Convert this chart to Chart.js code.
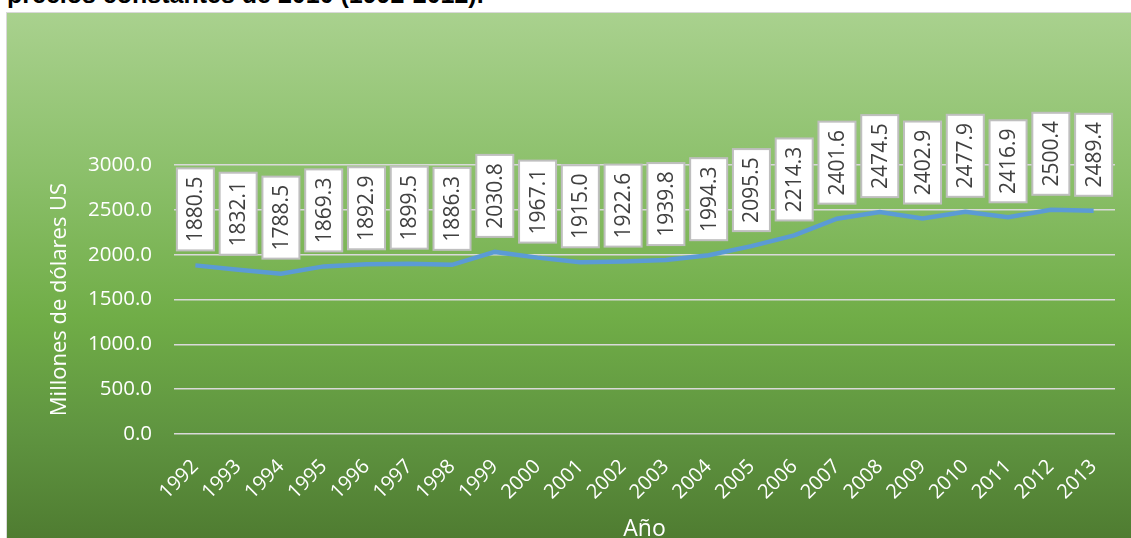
<!DOCTYPE html>
<html lang="es">
<head>
<meta charset="utf-8">
<title>Millones de dólares US</title>
<script src="https://cdn.jsdelivr.net/npm/chart.js@4/dist/chart.umd.min.js"></script>
<style>
  html, body { margin: 0; padding: 0; background: #ffffff; width: 1131px; height: 538px; overflow: hidden; }
  #heading {
    position: absolute; left: 7px; top: -20px; margin: 0;
    font: bold 25px "Liberation Sans", Arial, sans-serif; color: #000000; white-space: nowrap;
  }
  #frame {
    position: absolute; left: 6px; top: 12px; width: 1126px; height: 528px; overflow: hidden;
    box-sizing: border-box; border: 1px solid #d9d9d9;
    background: linear-gradient(to bottom, #a9d18e 0%, #8cc06b 30%, #70ad47 58%, #5f9440 80%, #4f7c31 100%);
  }
  #chartBox { position: absolute; left: 0; top: 0; width: 1125px; height: 530px; }
</style>
</head>
<body>
<p id="heading">precios constantes de 2010 (1992-2012).</p>
<div id="frame">
  <div id="chartBox"><canvas id="chart"></canvas></div>
</div>
<script>
// Años y valores de la serie
const years = ['1992','1993','1994','1995','1996','1997','1998','1999','2000','2001','2002',
               '2003','2004','2005','2006','2007','2008','2009','2010','2011','2012','2013'];
const values = [1880.5, 1832.1, 1788.5, 1869.3, 1892.9, 1899.5, 1886.3, 2030.8, 1967.1, 1915.0, 1922.6,
                1939.8, 1994.3, 2095.5, 2214.3, 2401.6, 2474.5, 2402.9, 2477.9, 2416.9, 2500.4, 2489.4];
const yTicks = [0, 500, 1000, 1500, 2000, 2500, 3000];

const FONT = '"Open Sans", "Liberation Sans", sans-serif';

// Etiquetas de datos giradas dentro de un recuadro blanco
const boxedLabels = {
  id: 'boxedLabels',
  afterDatasetsDraw(chart) {
    const ctx = chart.ctx;
    const meta = chart.getDatasetMeta(0);
    const boxW = 37, boxH = 82, gap = 15;
    ctx.save();
    meta.data.forEach((pt, i) => {
      const x = pt.x, bottom = pt.y - gap;
      const top = bottom - boxH;
      ctx.fillStyle = '#ffffff';
      ctx.fillRect(x - boxW / 2, top, boxW, boxH);
      ctx.strokeStyle = '#bfbfbf';
      ctx.lineWidth = 2;
      ctx.strokeRect(x - boxW / 2, top, boxW, boxH);
      ctx.save();
      ctx.translate(x, top + boxH / 2);
      ctx.rotate(-Math.PI / 2);
      ctx.fillStyle = '#404040';
      ctx.font = '21px ' + FONT;
      ctx.textAlign = 'center';
      ctx.textBaseline = 'middle';
      ctx.fillText(values[i].toFixed(1), 0, 1);
      ctx.restore();
    });
    ctx.restore();
  }
};

new Chart(document.getElementById('chart'), {
  type: 'line',
  data: {
    labels: years,
    datasets: [{
      data: values,
      borderColor: '#5b9bd5',
      borderWidth: 4.5,
      pointRadius: 0,
      tension: 0,
      fill: false
    }]
  },
  options: {
    responsive: true,
    maintainAspectRatio: false,
    animation: false,
    layout: { padding: { top: 152, right: 17, bottom: 0, left: 0 } },
    plugins: { legend: { display: false }, tooltip: { enabled: false } },
    scales: {
      x: {
        offset: true,
        grid: { display: false, drawTicks: false },
        border: { display: false },
        ticks: {
          color: '#ffffff', font: { family: FONT, size: 20 },
          minRotation: 45, maxRotation: 45, padding: 21, autoSkip: false
        },
        title: {
          display: true, text: 'Año', color: '#ffffff',
          font: { family: FONT, size: 23 }, padding: { top: 0, bottom: 0 }
        },
        afterFit(scale) { scale.height = 109; }
      },
      y: {
        min: 0, max: 3000,
        afterBuildTicks(scale) { scale.ticks = yTicks.map(v => ({ value: v })); },
        grid: { color: '#d9d9d9', lineWidth: 1.5, drawTicks: false },
        border: { display: false },
        ticks: {
          color: '#ffffff', font: { family: FONT, size: 20.5 }, padding: 22,
          callback: v => Number(v).toFixed(1)
        },
        title: {
          display: true, text: 'Millones de dólares US', color: '#ffffff',
          font: { family: FONT, size: 22 }, padding: { top: 40, bottom: 0 }
        },
        afterFit(scale) { scale.width = 167; }
      }
    }
  },
  plugins: [boxedLabels]
});
</script>
</body>
</html>
